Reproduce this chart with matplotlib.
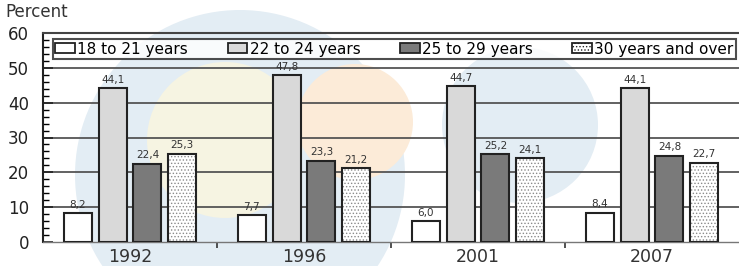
import matplotlib.pyplot as plt
from matplotlib.patches import Circle, Patch
import numpy as np

years = ["1992", "1996", "2001", "2007"]
series = ["18 to 21 years", "22 to 24 years", "25 to 29 years", "30 years and over"]
age_18_21 = [8.2, 7.7, 6.0, 8.4]
age_22_24 = [44.1, 47.8, 44.7, 44.1]
age_25_29 = [22.4, 23.3, 25.2, 24.8]
age_30_up = [25.3, 21.2, 24.1, 22.7]

values = [age_18_21, age_22_24, age_25_29, age_30_up]
fills = ["white", "#d9d9d9", "#7a7a7a", "white"]
hatches = [None, None, None, "....."]

plt.rcParams['font.family'] = ['DejaVu Sans']
plt.rcParams['hatch.linewidth'] = 0.6
plt.rcParams['hatch.color'] = '#8a8a8a'

fig = plt.figure(figsize=(7.39, 2.66), dpi=100)

# faint watermark circles behind the chart (pixel positions -> inches)
for (cx, cy, r, c) in [(240, 175, 165, "#e3edf4"), (225, 140, 78, "#f6f4e2"),
                       (355, 122, 58, "#fcebd8"), (520, 125, 78, "#e3edf4")]:
    fig.patches.append(Circle((cx / 100, (266 - cy) / 100), r / 100,
                              transform=fig.dpi_scale_trans,
                              facecolor=c, edgecolor="none", zorder=-5))

ax = fig.add_axes([43 / 739, 24 / 266, 1 - 43 / 739, 209 / 266])
ax.set_facecolor("none")
ax.set_zorder(2)

x = np.arange(len(years))
w = 0.16
offsets = [-0.3, -0.1, 0.1, 0.3]
for vals, fc, h, off in zip(values, fills, hatches, offsets):
    ax.bar(x + off, vals, w, color=fc, hatch=h, edgecolor="#8a8a8a" if h else "none",
           linewidth=0, zorder=3)
    ax.bar(x + off, vals, w, color="none", edgecolor="#222222", linewidth=1.5, zorder=4)
    for xi, v in zip(x + off, vals):
        ax.text(xi, v + 1.0, f"{v:.1f}".replace(".", ","), ha="center", va="bottom",
                fontsize=7.5, color="#333333", zorder=5)

ax.set_xlim(-0.5, 3.5)
ax.set_ylim(0, 60)
ax.set_yticks(range(0, 61, 10))
ax.set_yticks(range(0, 61, 2), minor=True)
ax.tick_params(axis="y", which="major", direction="in", length=7, width=1.2, pad=10,
               labelsize=12, colors="#222222")
ax.tick_params(axis="y", which="minor", direction="in", length=4, width=1)
for yv in range(10, 60, 10):
    ax.axhline(yv, color="#555555", linewidth=1.3, zorder=1)

ax.set_xticks(x)
ax.set_xticklabels(years)
ax.set_xticks([0.5, 1.5, 2.5], minor=True)
ax.tick_params(axis="x", which="major", length=0, pad=4.5, labelsize=12.5, colors="#333333")
ax.tick_params(axis="x", which="minor", direction="out", length=4, width=1.2, colors="#333333")

ax.spines["right"].set_visible(False)
ax.spines["left"].set_linewidth(1.5)
ax.spines["left"].set_color("#222222")
ax.spines["top"].set_linewidth(1.5)
ax.spines["top"].set_color("#444444")
ax.spines["bottom"].set_linewidth(1)
ax.spines["bottom"].set_color("#777777")

handles = [Patch(facecolor=fc, edgecolor="#222222", hatch=h, linewidth=1.3)
           for fc, h in zip(fills, hatches)]
leg = ax.legend(handles, series, ncol=4, mode="expand", loc="lower left",
                bbox_to_anchor=(10 / 696, 183 / 209, 683 / 696, 21 / 209),
                fontsize=11, frameon=True, fancybox=False, handlelength=1.3,
                handleheight=0.6, handletextpad=0.15, columnspacing=0.6,
                borderpad=0.15, borderaxespad=0)
leg.get_frame().set_edgecolor("#222222")
leg.get_frame().set_linewidth(1.5)
leg.set_zorder(6)

fig.text(5 / 739, 1 - 12 / 266, "Percent", fontsize=12, color="#333333", va="center")

fig.savefig("out.png", dpi=100)
